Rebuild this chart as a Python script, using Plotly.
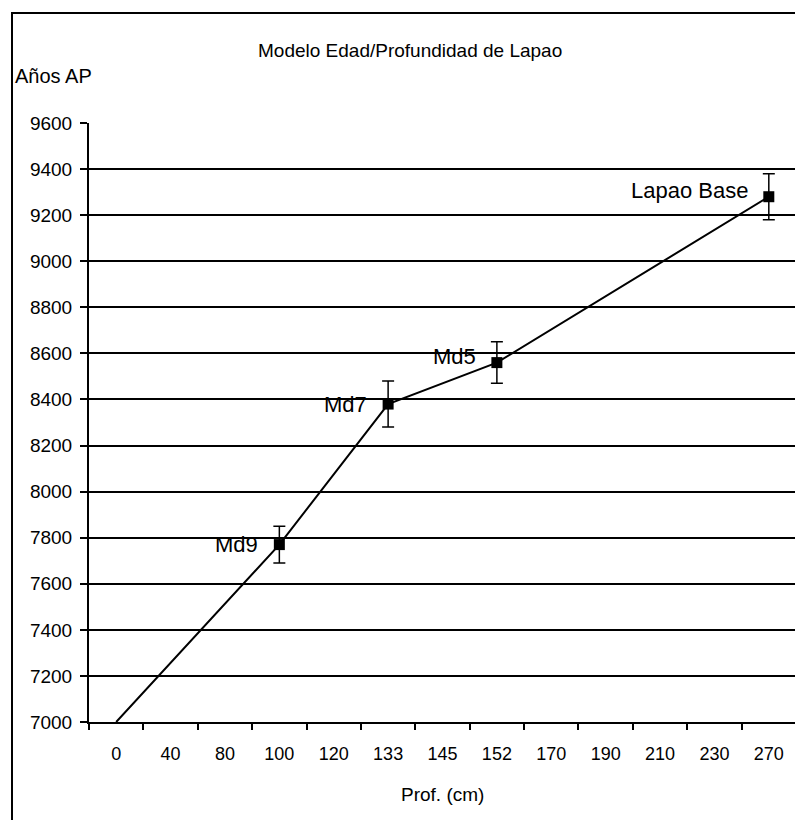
import plotly.graph_objects as go

# Data
categories = ["0", "40", "80", "100", "120", "133", "145", "152", "170", "190", "210", "230", "270"]
line_depths = ["0", "100", "133", "152", "270"]
line_ages = [7000, 7770, 8380, 8560, 9280]
sample_names = ["Md9", "Md7", "Md5", "Lapao Base"]
sample_depths = ["100", "133", "152", "270"]
sample_ages = [7770, 8380, 8560, 9280]
sample_errors = [80, 100, 90, 100]
label_yshift = [0, 0, 6, 6]

FONT = "Liberation Sans, Arial, sans-serif"
O = 8  # page body margin offset
W, H = 795, 812
L, R, T, B = 81, 7, 115, 98

fig = go.Figure()

fig.add_trace(go.Scatter(
    x=line_depths, y=line_ages, mode="lines",
    line=dict(color="black", width=2),
    cliponaxis=False, showlegend=False, hoverinfo="skip",
))

fig.add_trace(go.Scatter(
    x=sample_depths, y=sample_ages, mode="markers",
    marker=dict(symbol="square", size=11, color="black"),
    error_y=dict(type="data", array=sample_errors, visible=True,
                 color="black", thickness=1.5, width=6),
    cliponaxis=False, showlegend=False,
))

annotations = []
for name, d, a, ys in zip(sample_names, sample_depths, sample_ages, label_yshift):
    annotations.append(dict(
        x=categories.index(d), y=a, xref="x", yref="y", text=name, showarrow=False,
        xanchor="right", yanchor="middle", xshift=-19, yshift=ys,
        font=dict(family=FONT, size=22, color="black"),
    ))

pw = W - L - R
ph = H - T - B
def px_x(p):
    return (p - O - L) / pw
def px_y(p):
    return 1 - (p - O - T) / ph

annotations.append(dict(
    x=px_x(410), y=px_y(50), xref="paper", yref="paper",
    text="Modelo Edad/Profundidad de Lapao", showarrow=False,
    xanchor="center", yanchor="middle",
    font=dict(family=FONT, size=19, color="black"),
))
annotations.append(dict(
    x=px_x(13), y=px_y(76), xref="paper", yref="paper",
    text="Años AP", showarrow=False,
    xanchor="left", yanchor="middle",
    font=dict(family=FONT, size=20, color="black"),
))
annotations.append(dict(
    x=px_x(442), y=px_y(794), xref="paper", yref="paper",
    text="Prof. (cm)", showarrow=False,
    xanchor="center", yanchor="middle",
    font=dict(family=FONT, size=19, color="black"),
))

shapes = [
    dict(type="line", xref="paper", yref="paper",
         x0=px_x(12), x1=px_x(12), y0=px_y(12), y1=px_y(830),
         line=dict(color="black", width=2)),
    dict(type="line", xref="paper", yref="paper",
         x0=px_x(11), x1=px_x(810), y0=px_y(13), y1=px_y(13),
         line=dict(color="black", width=2)),
]

fig.update_layout(
    width=W, height=H,
    margin=dict(l=L, r=R, t=T, b=B, pad=0),
    paper_bgcolor="white", plot_bgcolor="white",
    font=dict(family=FONT, size=18, color="black"),
    annotations=annotations, shapes=shapes,
    xaxis=dict(
        type="category", categoryorder="array", categoryarray=categories,
        tickvals=categories, ticktext=categories,
        range=[-0.5, len(categories) - 0.5],
        showgrid=False, showline=True, linecolor="black", linewidth=2,
        ticks="outside", tickson="boundaries", ticklen=6, tickwidth=2,
        tickcolor="black", ticklabelstandoff=14,
        tickfont=dict(family=FONT, size=18, color="black"),
        zeroline=False,
    ),
    yaxis=dict(
        range=[7000, 9600], dtick=200, tick0=7000,
        showgrid=True, gridcolor="black", gridwidth=1.5,
        showline=True, linecolor="black", linewidth=2,
        ticks="outside", ticklen=7, tickwidth=2, tickcolor="black",
        ticklabelstandoff=4,
        tickfont=dict(family=FONT, size=19, color="black"),
        zeroline=False,
    ),
    hovermode=False,
)

fig.write_html("out.html")
